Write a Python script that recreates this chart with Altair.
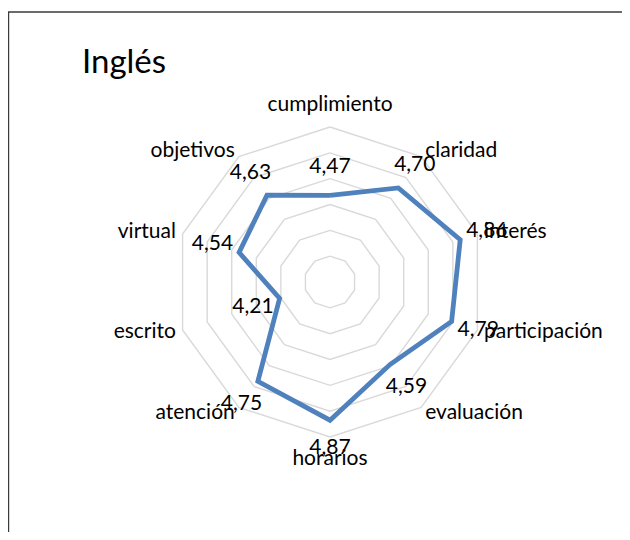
import math
import altair as alt
import pandas as pd

# ---- data ----
categories = ["cumplimiento", "claridad", "interés", "participación", "evaluación",
              "horarios", "atención", "escrito", "virtual", "objetivos"]
values = [4.47, 4.70, 4.86, 4.79, 4.59, 4.87, 4.75, 4.21, 4.54, 4.63]
grid_levels = [4.0, 4.2, 4.4, 4.6, 4.8, 5.0]
r_min, r_max = 3.8, 5.0
title_text = "Inglés"

# ---- layout (pixels) ----
W, H = 614, 524          # plot area
CX, CY = 322, 274        # centre of the radar inside the plot area
R = 155                  # outer ring radius
FONT = "Lato"
N = len(categories)


def polar(v, i, extra=0.0):
    rr = (v - r_min) / (r_max - r_min) * R + extra
    th = 2 * math.pi * i / N
    return rr * math.sin(th), rr * math.cos(th)


# series polygon (closed)
series_rows = []
for k in range(N + 1):
    i = k % N
    x, y = polar(values[i], i)
    series_rows.append({"order": k, "x": x, "y": y, "cat": categories[i]})
series_df = pd.DataFrame(series_rows)

# grid decagons
grid_rows = []
for lv in grid_levels:
    for k in range(N + 1):
        i = k % N
        x, y = polar(lv, i)
        grid_rows.append({"level": lv, "order": k, "x": x, "y": y})
grid_df = pd.DataFrame(grid_rows)

# value labels
val_rows = []
for i, v in enumerate(values):
    x, y = polar(v, i, extra=28)
    val_rows.append({"x": x, "y": y, "label": f"{v:.2f}".replace(".", ",")})
val_df = pd.DataFrame(val_rows)

# category labels
cat_rows = []
for i, c in enumerate(categories):
    s = math.sin(2 * math.pi * i / N)
    if abs(s) < 0.1:
        side, extra = "center", 22
    elif s > 0:
        side, extra = "left", 7
    else:
        side, extra = "right", 7
    x, y = polar(r_max, i, extra=extra)
    cat_rows.append({"x": x, "y": y, "label": c, "side": side})
cat_df = pd.DataFrame(cat_rows)

xs = alt.Scale(domain=[-CX, W - CX], nice=False, zero=False)
ys = alt.Scale(domain=[-(H - CY), CY], nice=False, zero=False)
X = alt.X("x:Q", scale=xs, axis=None)
Y = alt.Y("y:Q", scale=ys, axis=None)

grid = alt.Chart(grid_df).mark_line(color="#D9D9D9", strokeWidth=1.4).encode(
    x=X, y=Y, detail="level:N", order="order:Q"
)

line = alt.Chart(series_df).mark_line(color="#4F81BD", strokeWidth=4.8).encode(
    x=X, y=Y, order="order:Q"
)

vals = alt.Chart(val_df).mark_text(
    font=FONT, fontSize=21, color="#000000", align="center", baseline="middle"
).encode(x=X, y=Y, text="label:N")

cat_layers = []
for side in ["center", "left", "right"]:
    cat_layers.append(
        alt.Chart(cat_df).transform_filter(alt.datum.side == side).mark_text(
            font=FONT, fontSize=21, color="#000000", align=side, baseline="middle"
        ).encode(x=X, y=Y, text="label:N")
    )

title = alt.Chart(pd.DataFrame({"t": [title_text]})).mark_text(
    font=FONT, fontSize=33, color="#000000", align="left", baseline="alphabetic"
).encode(x=alt.value(74), y=alt.value(65), text="t:N")

frame_left = alt.Chart(pd.DataFrame({"a": [0]})).mark_rule(
    color="#3A3A3A", strokeWidth=1.4
).encode(x=alt.value(0.5), y=alt.value(4), y2=alt.value(H))
frame_top = alt.Chart(pd.DataFrame({"a": [0]})).mark_rule(
    color="#3A3A3A", strokeWidth=1.4
).encode(x=alt.value(0), x2=alt.value(W), y=alt.value(4))

chart = alt.layer(
    frame_left, frame_top, grid, line, vals, *cat_layers, title
).properties(
    width=W, height=H, padding=0,
    autosize=alt.AutoSizeParams(type="none"),
    background="white",
).configure_view(strokeWidth=0)

chart.save("out.html", embed_options={"renderer": "svg", "actions": False})
